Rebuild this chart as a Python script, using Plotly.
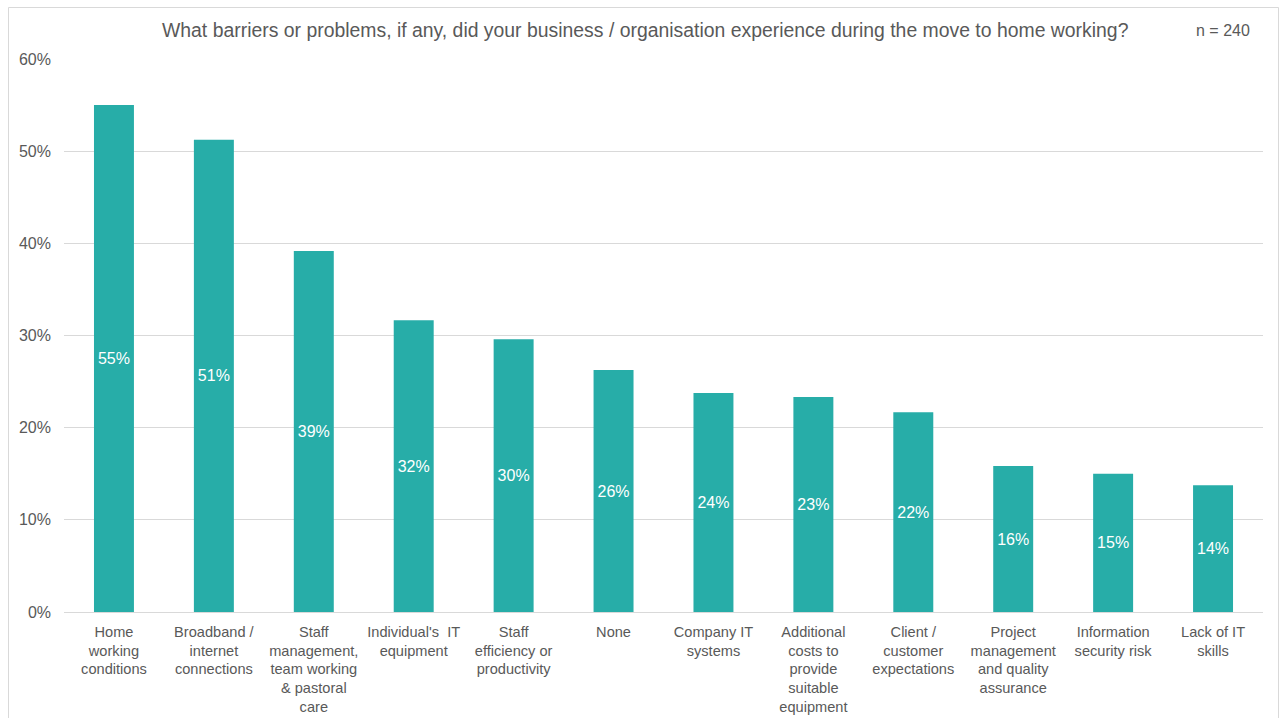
import plotly.graph_objects as go

# Survey responses, n = 240 (share of respondents per barrier)
categories = [
    "Home<br>working<br>conditions",
    "Broadband /<br>internet<br>connections",
    "Staff<br>management,<br>team working<br>& pastoral<br>care",
    "Individual's  IT<br>equipment",
    "Staff<br>efficiency or<br>productivity",
    "None",
    "Company IT<br>systems",
    "Additional<br>costs to<br>provide<br>suitable<br>equipment",
    "Client /<br>customer<br>expectations",
    "Project<br>management<br>and quality<br>assurance",
    "Information<br>security risk",
    "Lack of IT<br>skills",
]
respondents = [132, 123, 94, 76, 71, 63, 57, 56, 52, 38, 36, 33]
sample_size = 240
shares = [r / sample_size for r in respondents]

y_ticks = [0, 0.1, 0.2, 0.3, 0.4, 0.5, 0.6]
y_tick_labels = ["0%", "10%", "20%", "30%", "40%", "50%", "60%"]

title_text = "What barriers or problems, if any, did your business / organisation experience during the move to home working?"
n_text = "n = 240"

TEAL = "#27ADA8"
GREY_TEXT = "#595959"
GRID = "#D9D9D9"
FONT = "Liberation Sans, Arial, sans-serif"

fig = go.Figure(
    go.Bar(
        x=categories,
        y=shares,
        marker=dict(color=TEAL, line=dict(width=0)),
        width=0.4,
        texttemplate="%{y:.0%}",
        textposition="inside",
        insidetextanchor="middle",
        textangle=0,
        textfont=dict(color="white", size=16, family=FONT),
        hoverinfo="skip",
    )
)

# plot area in pixels: left 64, right 1263, top 59, bottom 612
L, R, T, B = 64, 1263, 59, 612
W, H = 1280, 718
pw, ph = R - L, B - T


def px_x(x):
    return (x - L) / pw


def px_y(y):
    return (B - y) / ph


fig.update_layout(
    width=W,
    height=H,
    margin=dict(l=L, r=W - R, t=T, b=H - B, pad=0, autoexpand=False),
    paper_bgcolor="white",
    plot_bgcolor="white",
    font=dict(family=FONT, color=GREY_TEXT, size=16),
    showlegend=False,
    bargap=0.6,
    xaxis=dict(
        automargin=False,
        showgrid=False,
        showline=True,
        linecolor=GRID,
        linewidth=1,
        ticks="",
        tickangle=0,
        ticklabelstandoff=6,
        tickfont=dict(size=14.6, color=GREY_TEXT),
        fixedrange=True,
    ),
    yaxis=dict(
        automargin=False,
        range=[0, 0.6],
        tickvals=y_ticks,
        ticktext=y_tick_labels,
        showgrid=True,
        gridcolor=GRID,
        gridwidth=1,
        zeroline=True,
        zerolinecolor=GRID,
        zerolinewidth=1,
        ticks="",
        ticklabelstandoff=12,
        tickfont=dict(size=16, color=GREY_TEXT),
        fixedrange=True,
    ),
    shapes=[
        dict(
            type="rect",
            xref="paper",
            yref="paper",
            x0=px_x(8.5),
            x1=px_x(1278.5),
            y0=px_y(730),
            y1=px_y(7.5),
            line=dict(color="#D9D9D9", width=1),
            fillcolor="rgba(0,0,0,0)",
            layer="below",
        )
    ],
    annotations=[
        dict(
            text=title_text,
            xref="paper",
            yref="paper",
            x=px_x(645),
            y=px_y(30),
            xanchor="center",
            yanchor="middle",
            showarrow=False,
            font=dict(size=19.4, color=GREY_TEXT, family=FONT),
        ),
        dict(
            text=n_text,
            xref="paper",
            yref="paper",
            x=px_x(1223),
            y=px_y(31),
            xanchor="center",
            yanchor="middle",
            showarrow=False,
            font=dict(size=16, color=GREY_TEXT, family=FONT),
        ),
    ],
)

fig.write_html("out.html")
